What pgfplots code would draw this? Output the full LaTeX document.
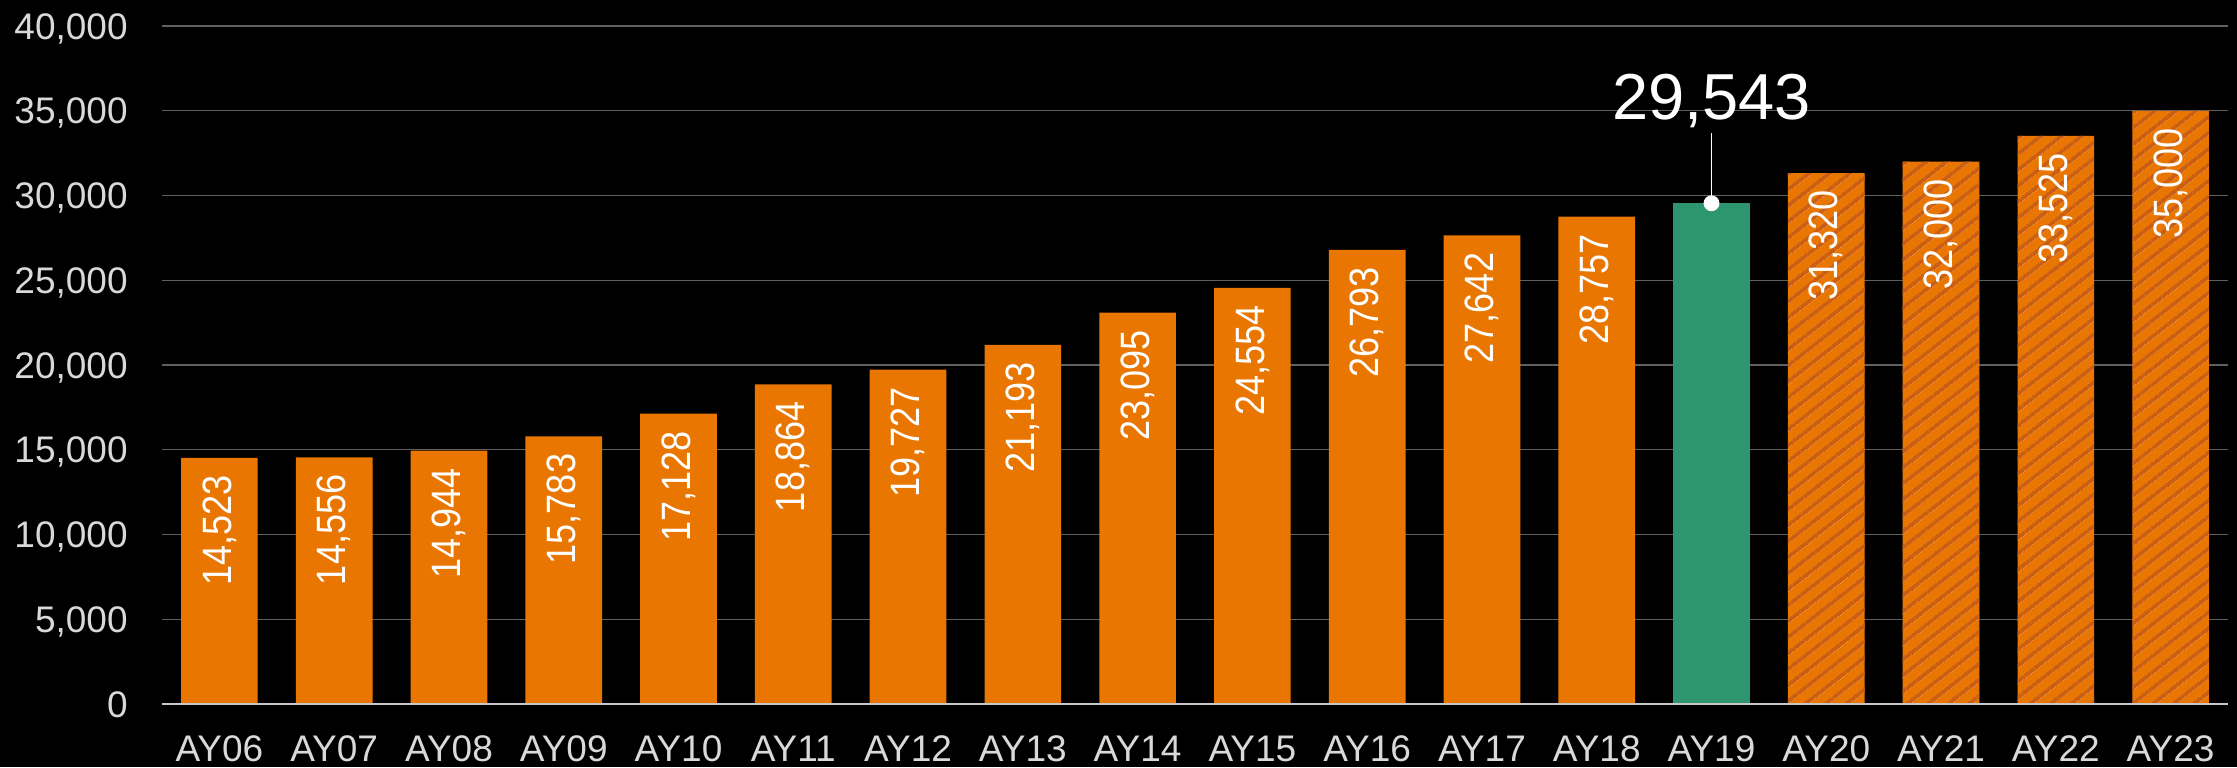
\documentclass[border=0pt]{standalone}
\usepackage{fontspec}
\setmainfont{Liberation Sans}
\newfontfamily\narrowfont[FakeStretch=0.88]{Liberation Sans}
\usepackage{pgfplots}
\pgfplotsset{compat=1.18}
\usetikzlibrary{patterns.meta}
\definecolor{barorange}{RGB}{232,118,0}
\definecolor{bargreen}{RGB}{46,150,110}
\definecolor{hatchorange}{RGB}{203,94,18}
\definecolor{gridgray}{RGB}{95,95,95}
\definecolor{labgray}{RGB}{217,217,217}
\definecolor{axisgray}{RGB}{200,200,200}

\pgfplotstableread{
x y
0 14523
1 14556
2 14944
3 15783
4 17128
5 18864
6 19727
7 21193
8 23095
9 24554
10 26793
11 27642
12 28757
}\actual
\pgfplotstableread{
x y
13 29543
}\current
\pgfplotstableread{
x y
14 31320
15 32000
16 33525
17 35000
}\projected

\begin{document}
\begin{tikzpicture}
\path[use as bounding box, fill=black] (-81pt,-31.5pt) rectangle (1037.5pt,352pt);
\begin{axis}[
  at={(0,0)}, anchor=south west,
  width=1033pt, height=339pt, scale only axis,
  xmin=-0.5, xmax=17.5, ymin=0, ymax=40000,
  ytick={0,5000,...,40000},
  xtick={0,...,17},
  xticklabels={AY06,AY07,AY08,AY09,AY10,AY11,AY12,AY13,AY14,AY15,AY16,AY17,AY18,AY19,AY20,AY21,AY22,AY23},
  scaled y ticks=false,
  /pgf/number format/.cd, fixed, precision=0, 1000 sep={,}, assume math mode=true,
  /pgfplots/.cd,
  major tick length=0pt,
  axis line style={draw=none},
  ymajorgrids,
  grid style={gridgray, line width=0.7pt},
  tick label style={font=\fontsize{18.5}{20}\selectfont, text=labgray},
  xticklabel style={anchor=base, yshift=-28.7pt, inner sep=0pt},
  yticklabel style={anchor=base east, xshift=-17pt, yshift=-6.6pt, inner sep=0pt},
  ybar, bar width=0.668, bar shift=0pt,
  every node near coord/.append style={rotate=90, anchor=east, inner sep=0pt, xshift=-8.5pt, text=white, font=\narrowfont\fontsize{20.5}{22}\selectfont},
  clip=false,
]
\addplot[draw=none, fill=barorange, nodes near coords] table[x=x, y=y] {\actual};
\addplot[draw=none, fill=bargreen] table[x=x, y=y] {\current};
\addplot[draw=none, fill=barorange, postaction={pattern={Lines[angle=38, distance=6.5pt, line width=2.2pt]}, pattern color=hatchorange}, nodes near coords] table[x=x, y=y] {\projected};
\draw[axisgray, line width=1pt] (axis cs:-0.5,0) -- (axis cs:17.5,0);
\draw[white, line width=0.9pt] (axis cs:13,29543) -- ++(0pt,35pt);
\addplot[only marks, mark=*, mark size=3.75pt, white, mark options={draw=white, fill=white}] coordinates {(13,29543)};
\node[anchor=base, text=white, font=\fontsize{32.5}{34}\selectfont, inner sep=0pt] at ([yshift=41.75pt]axis cs:13,29543) {29,543};
\end{axis}
\end{tikzpicture}
\end{document}
